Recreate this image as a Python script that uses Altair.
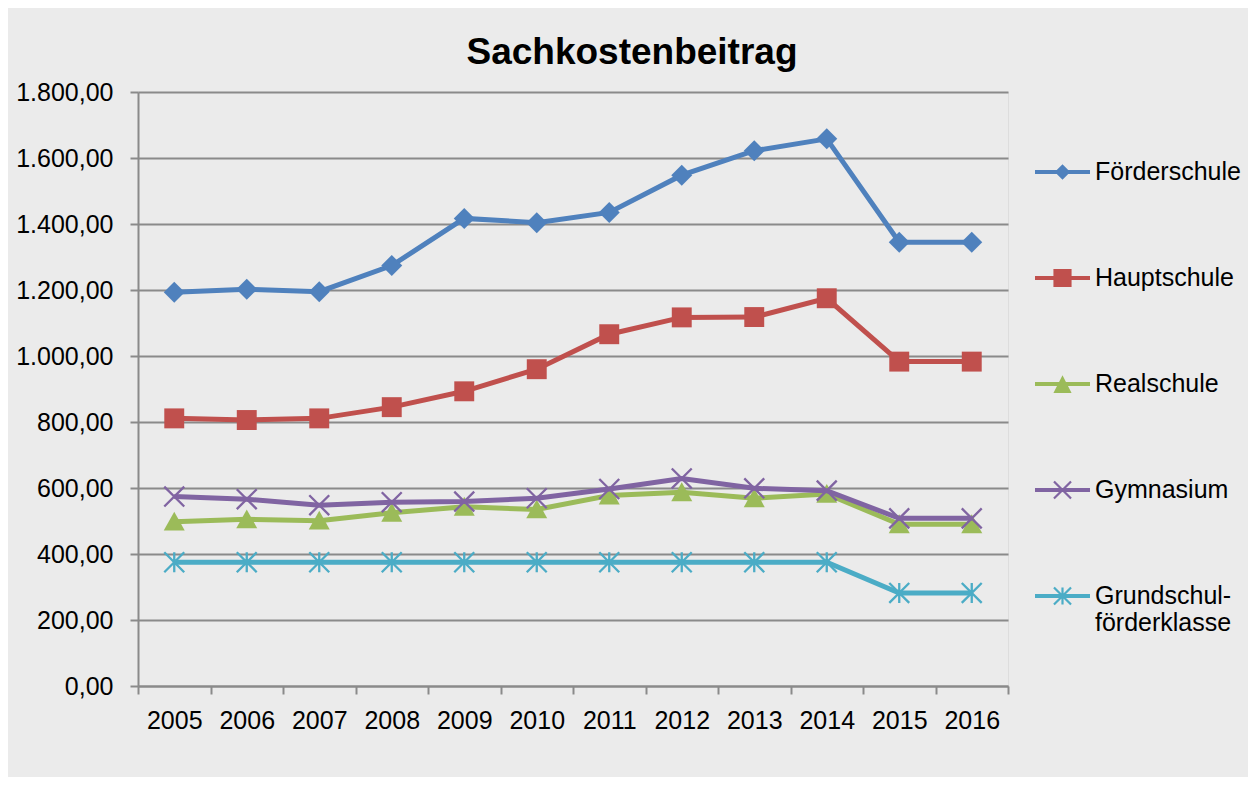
import altair as alt
import pandas as pd

# ---------------- data ----------------
years = ["2005", "2006", "2007", "2008", "2009", "2010",
         "2011", "2012", "2013", "2014", "2015", "2016"]
series = ["Förderschule", "Hauptschule", "Realschule", "Gymnasium",
          "Grundschulförderklasse"]

foerderschule = [1193, 1202, 1195, 1274, 1417, 1404, 1435, 1548, 1622, 1658, 1345, 1345]
hauptschule = [811, 806, 811, 845, 893, 960, 1066, 1117, 1118, 1175, 983, 983]
realschule = [498, 505, 501, 525, 543, 535, 577, 587, 569, 582, 490, 490]
gymnasium = [574, 566, 548, 557, 559, 569, 597, 629, 599, 592, 508, 508]
grundschulfoerderklasse = [375, 375, 375, 375, 375, 375, 375, 375, 375, 375, 282, 282]

y_ticks = [0, 200, 400, 600, 800, 1000, 1200, 1400, 1600, 1800]

colors = ["#4F81BD", "#C0504D", "#9BBB59", "#8064A2", "#4BACC6"]

rows = []
for name, vals in zip(series, [foerderschule, hauptschule, realschule,
                               gymnasium, grundschulfoerderklasse]):
    for yr, v in zip(years, vals):
        rows.append({"Jahr": yr, "Schule": name, "Wert": v})
df = pd.DataFrame(rows)


# ---------------- marker shapes (SVG paths in -1..1 box) ----------------
def f(v):
    return f"{v:.4f}"


def diamond(a):
    return f"M0,{f(-a)}L{f(a)},0L0,{f(a)}L{f(-a)},0Z"


def square(a):
    return f"M{f(-a)},{f(-a)}L{f(a)},{f(-a)}L{f(a)},{f(a)}L{f(-a)},{f(a)}Z"


def triangle(a, top, bottom):
    return f"M0,{f(-top)}L{f(a)},{f(bottom)}L{f(-a)},{f(bottom)}Z"


def cross(a, t):
    o = t / 2 ** 0.5
    p1 = (f"M{f(-a + o)},{f(-a - o)}L{f(a + o)},{f(a - o)}"
          f"L{f(a - o)},{f(a + o)}L{f(-a - o)},{f(-a + o)}Z")
    p2 = (f"M{f(-a + o)},{f(a + o)}L{f(-a - o)},{f(a - o)}"
          f"L{f(a - o)},{f(-a - o)}L{f(a + o)},{f(-a + o)}Z")
    return p1 + p2


def asterisk(a, t):
    return cross(a, t) + f"M{f(-t)},{f(-a)}L{f(t)},{f(-a)}L{f(t)},{f(a)}L{f(-t)},{f(a)}Z"


def bar(h):
    return f"M-1,{f(-h)}L1,{f(-h)}L1,{f(h)}L-1,{f(h)}Z"


marker_paths = [
    diamond(1.0),
    square(0.95),
    triangle(1.0, 0.95, 0.85),
    cross(0.95, 0.11),
    asterisk(0.95, 0.11),
]
lb = bar(0.075)
legend_paths = [
    lb + diamond(0.28),
    lb + square(0.33),
    lb + triangle(0.33, 0.32, 0.33),
    lb + cross(0.31, 0.04),
    lb + asterisk(0.31, 0.04),
]

FONT = "Liberation Sans"
GRID = "#8a8a8a"

x_enc = alt.X(
    "Jahr:O",
    sort=years,
    scale=alt.Scale(type="band", paddingInner=0, paddingOuter=0),
    axis=alt.Axis(title=None, labelAngle=0, tickBand="extent", grid=False,
                  labelFontSize=25, labelPadding=14, tickSize=8,
                  tickWidth=2, tickColor=GRID, domainWidth=2, domainColor=GRID,
                  labelColor="black", labelFont=FONT),
)
y_enc = alt.Y(
    "Wert:Q",
    scale=alt.Scale(domain=[0, 1800], nice=False, zero=True),
    axis=alt.Axis(title=None, values=y_ticks, grid=True, gridColor=GRID,
                  gridWidth=2, labelFontSize=25, labelPadding=17,
                  tickSize=8, tickWidth=2, tickColor=GRID, domainWidth=2,
                  domainColor=GRID, labelColor="black", labelFont=FONT,
                  labelExpr="replace(replace(replace(format(datum.value, ',.2f'), ',', '#'), '.', ','), '#', '.')"),
)
color_scale = alt.Scale(domain=series, range=colors)

base = alt.Chart(df).encode(
    x=x_enc,
    y=y_enc,
    color=alt.Color("Schule:N", scale=color_scale, legend=None),
)

leg = alt.Legend(
    title=None, orient="none", legendX=897, legendY=52.5,
    symbolSize=3025, symbolOpacity=1, symbolStrokeWidth=0,
    labelFontSize=25, labelFont=FONT, labelColor="black",
    labelOffset=5, rowPadding=65, labelLimit=400, padding=0,
    labelExpr="datum.label == 'Grundschulförderklasse' ? ['Grundschul-', 'förderklasse'] : datum.label",
)

# invisible layer that only carries the legend (placed first so its legend wins)
legend_layer = base.mark_point(filled=True, opacity=0, size=3025).encode(
    color=alt.Color("Schule:N", scale=color_scale, legend=leg),
    shape=alt.Shape("Schule:N",
                    scale=alt.Scale(domain=series, range=legend_paths),
                    legend=leg),
)

layers = [legend_layer]
for i, s in enumerate(series):
    sub = base.transform_filter(alt.datum.Schule == s)
    layers.append(sub.mark_line(strokeWidth=5))
    layers.append(sub.mark_point(shape=marker_paths[i], filled=True,
                                 size=440, opacity=1))

chart = (
    alt.layer(*layers)
    .properties(
        width=870,
        height=594,
        background="#ebebeb",
        padding={"left": 130, "top": 84, "right": 240, "bottom": 91},
        autosize=alt.AutoSizeParams(type="none"),
        title=alt.TitleParams(
            "Sachkostenbeitrag", fontSize=37, font=FONT, fontWeight="bold",
            color="black", anchor="middle", dx=59, dy=38, offset=17,
            baseline="alphabetic",
        ),
    )
    .configure_view(strokeWidth=0)
    .configure(font=FONT)
)

chart.save("out.html", embed_options={"renderer": "svg", "actions": False})
